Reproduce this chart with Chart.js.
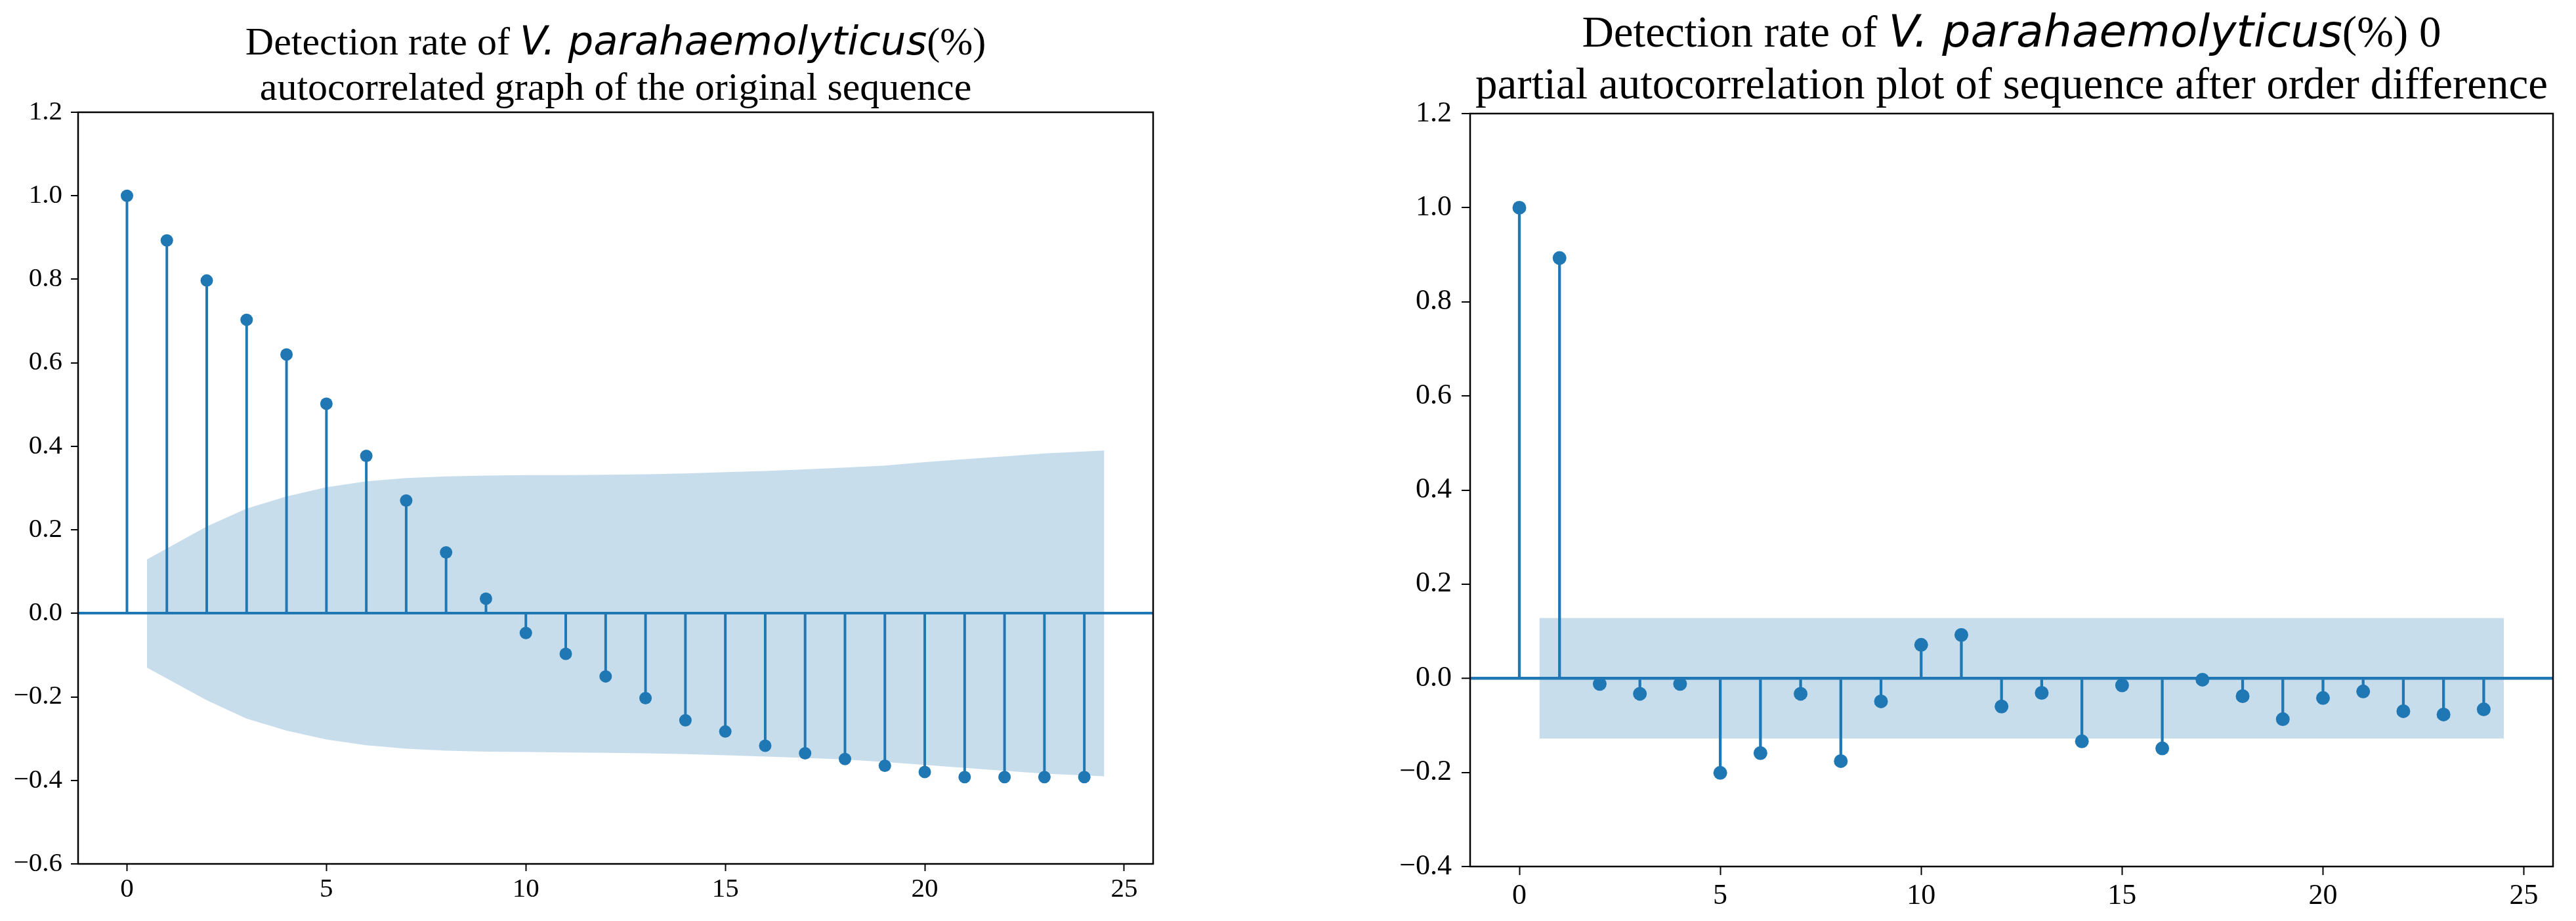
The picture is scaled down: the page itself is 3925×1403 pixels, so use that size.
<!DOCTYPE html>
<html>
<head>
<meta charset="utf-8">
<title>ACF / PACF</title>
<script src="https://cdn.jsdelivr.net/npm/chart.js@4.4.1/dist/chart.umd.min.js"></script>
<style>
    html, body { margin: 0; padding: 0; background: #ffffff; }
    #wrap { position: relative; width: 3925px; height: 1403px; }
    canvas { position: absolute; top: 0; }
    #acfChart { left: 0; }
    #pacfChart { left: 1960px; }
</style>
</head>
<body>
<div id="wrap">
    <canvas id="acfChart" width="1960" height="1403"></canvas>
    <canvas id="pacfChart" width="1965" height="1403"></canvas>
</div>
<script>
// -------------------------------
// DATA
// -------------------------------
const lags = [0, 1, 2, 3, 4, 5, 6, 7, 8, 9, 10, 11, 12, 13, 14, 15, 16, 17, 18, 19, 20, 21, 22, 23, 24];

// left: autocorrelation of the original sequence
const acfValues = [1.0, 0.893, 0.797, 0.703, 0.620, 0.502, 0.377, 0.270, 0.146, 0.035,
    -0.047, -0.097, -0.151, -0.203, -0.256, -0.283, -0.317, -0.335, -0.349, -0.365,
    -0.380, -0.392, -0.392, -0.392, -0.392];

// confidence band of the ACF (first and last lag widened by half a step)
const acfBandX = [0.5, 2, 3, 4, 5, 6, 7, 8, 9, 10, 11, 12, 13, 14, 15, 16, 17, 18, 19, 20, 21, 22, 23, 24.5];
const acfBandUpper = [0.129, 0.208, 0.251, 0.280, 0.302, 0.316, 0.324, 0.328, 0.330, 0.331, 0.331, 0.332,
    0.333, 0.335, 0.338, 0.341, 0.345, 0.349, 0.354, 0.362, 0.369, 0.376, 0.383, 0.390];
const acfBandLower = [-0.130, -0.208, -0.252, -0.281, -0.302, -0.316, -0.324, -0.329, -0.331, -0.332, -0.333, -0.334,
    -0.335, -0.337, -0.340, -0.343, -0.346, -0.350, -0.356, -0.363, -0.370, -0.377, -0.384, -0.390];

// right: partial autocorrelation after differencing
const pacfValues = [1.0, 0.893, -0.012, -0.033, -0.012, -0.201, -0.159, -0.033, -0.176, -0.049,
    0.071, 0.092, -0.060, -0.031, -0.134, -0.015, -0.149, -0.003, -0.038, -0.087,
    -0.042, -0.028, -0.070, -0.077, -0.066];

const pacfBandX = [0.5, 24.5];
const pacfBandUpper = [0.128, 0.128];
const pacfBandLower = [-0.128, -0.128];

// ticks
const xTicks = [0, 5, 10, 15, 20, 25];
const acfYTicks = [-0.6, -0.4, -0.2, 0, 0.2, 0.4, 0.6, 0.8, 1.0, 1.2];
const pacfYTicks = [-0.4, -0.2, 0, 0.2, 0.4, 0.6, 0.8, 1.0, 1.2];
const xMin = -1.225;
const xMax = 25.725;

// titles (italic parts are the species name)
const acfTitle = [
    [{ text: "Detection rate of " }, { text: "V. parahaemolyticus", italic: true }, { text: "(%)" }],
    [{ text: "autocorrelated graph of the original sequence" }]
];
const pacfTitle = [
    [{ text: "Detection rate of " }, { text: "V. parahaemolyticus", italic: true }, { text: "(%) 0" }],
    [{ text: "partial autocorrelation plot of sequence after order difference" }]
];

const C0 = "#1f77b4";

// -------------------------------
// PLUGINS: title lines and box frame
// -------------------------------
const stackTitle = {
    id: "stackTitle",
    afterDraw(chart, args, opts) {
        const ctx = chart.ctx;
        const area = chart.chartArea;
        const cx = (area.left + area.right) / 2;
        ctx.save();
        ctx.fillStyle = "#000";
        ctx.textAlign = "left";
        ctx.textBaseline = "alphabetic";
        opts.lines.forEach((line, k) => {
            let total = 0;
            const parts = line.map(seg => {
                const font = seg.italic
                    ? "italic " + opts.italicSize + "px 'DejaVu Sans'"
                    : opts.size + "px 'Liberation Serif'";
                ctx.font = font;
                const w = ctx.measureText(seg.text).width;
                total += w;
                return { font: font, w: w, text: seg.text };
            });
            let x = cx - total / 2;
            parts.forEach(p => {
                ctx.font = p.font;
                ctx.fillText(p.text, x, opts.baselines[k]);
                x += p.w;
            });
        });
        ctx.restore();
    }
};

const boxFrame = {
    id: "boxFrame",
    afterDraw(chart, args, opts) {
        const a = chart.chartArea;
        const ctx = chart.ctx;
        ctx.save();
        ctx.strokeStyle = "#000";
        ctx.lineWidth = opts.width;
        ctx.strokeRect(a.left, a.top, a.right - a.left, a.bottom - a.top);
        ctx.restore();
    }
};

// -------------------------------
// BUILD ONE STEM CHART
// -------------------------------
function makeChart(id, values, bandX, bandUp, bandLow, yTicks, title, cfg) {
    const ctx = document.getElementById(id).getContext("2d");

    return new Chart(ctx, {
        type: "bar",
        data: {
            datasets: [
                {
                    type: "line",
                    data: bandX.map((x, i) => ({ x: x, y: bandUp[i] })),
                    fill: "+1",
                    backgroundColor: "rgba(31,119,180,0.25)",
                    borderWidth: 0,
                    pointRadius: 0,
                    tension: 0
                },
                {
                    type: "line",
                    data: bandX.map((x, i) => ({ x: x, y: bandLow[i] })),
                    fill: false,
                    borderWidth: 0,
                    pointRadius: 0,
                    tension: 0
                },
                {
                    type: "bar",
                    data: lags.map((l, i) => ({ x: l, y: values[i] })),
                    backgroundColor: C0,
                    borderWidth: 0,
                    barThickness: cfg.stem
                },
                {
                    type: "scatter",
                    data: lags.map((l, i) => ({ x: l, y: values[i] })),
                    pointRadius: cfg.marker,
                    pointBackgroundColor: C0,
                    pointBorderWidth: 0
                }
            ]
        },
        options: {
            responsive: false,
            animation: false,
            events: [],
            layout: {
                padding: { left: 0, top: cfg.top, right: cfg.right, bottom: 0 }
            },
            plugins: {
                legend: { display: false },
                tooltip: { enabled: false },
                stackTitle: {
                    lines: title,
                    size: cfg.titleSize,
                    italicSize: cfg.italicSize,
                    baselines: cfg.baselines
                },
                boxFrame: { width: 2.5 }
            },
            scales: {
                x: {
                    type: "linear",
                    min: xMin,
                    max: xMax,
                    bounds: "data",
                    offset: false,
                    afterBuildTicks: s => { s.ticks = xTicks.map(v => ({ value: v })); },
                    afterFit: s => { s.height = cfg.xAxisHeight; },
                    grid: {
                        offset: false,
                        drawOnChartArea: false,
                        drawTicks: true,
                        tickLength: cfg.tickLen,
                        tickColor: "#000",
                        tickWidth: 2
                    },
                    border: { display: false },
                    ticks: {
                        color: "#000",
                        font: { family: "Liberation Serif", size: cfg.tickSize },
                        padding: cfg.xPad,
                        maxRotation: 0,
                        autoSkip: false,
                        callback: v => String(v)
                    }
                },
                y: {
                    type: "linear",
                    min: yTicks[0],
                    max: yTicks[yTicks.length - 1],
                    bounds: "data",
                    afterBuildTicks: s => { s.ticks = yTicks.map(v => ({ value: v })); },
                    afterFit: s => { s.width = cfg.yAxisWidth; },
                    grid: {
                        drawOnChartArea: true,
                        color: c => (c.tick && c.tick.value === 0) ? C0 : "rgba(0,0,0,0)",
                        lineWidth: c => (c.tick && c.tick.value === 0) ? cfg.zeroWidth : 0,
                        drawTicks: true,
                        tickLength: cfg.tickLen,
                        tickColor: "#000",
                        tickWidth: 2
                    },
                    border: { display: false },
                    ticks: {
                        color: "#000",
                        font: { family: "Liberation Serif", size: cfg.tickSize },
                        padding: cfg.yPad,
                        autoSkip: false,
                        callback: v => v.toFixed(1).replace("-", "\u2212")
                    }
                }
            }
        },
        plugins: [stackTitle, boxFrame]
    });
}

// -------------------------------
// DRAW BOTH PANELS
// -------------------------------
makeChart("acfChart", acfValues, acfBandX, acfBandUpper, acfBandLower, acfYTicks, acfTitle, {
    top: 171, right: 1960 - 1757, yAxisWidth: 119, xAxisHeight: 1403 - 1316,
    tickLen: 11, tickSize: 41, xPad: 4, yPad: 13,
    stem: 3.3, marker: 9.5, zeroWidth: 4,
    titleSize: 60, italicSize: 61, baselines: [83, 152]
});

makeChart("pacfChart", pacfValues, pacfBandX, pacfBandUpper, pacfBandLower, pacfYTicks, pacfTitle, {
    top: 173, right: 1965 - 1930, yAxisWidth: 280, xAxisHeight: 1403 - 1320,
    tickLen: 13, tickSize: 44, xPad: 6, yPad: 15,
    stem: 3.6, marker: 10.5, zeroWidth: 4.5,
    titleSize: 67, italicSize: 68, baselines: [71, 150]
});
</script>
</body>
</html>
